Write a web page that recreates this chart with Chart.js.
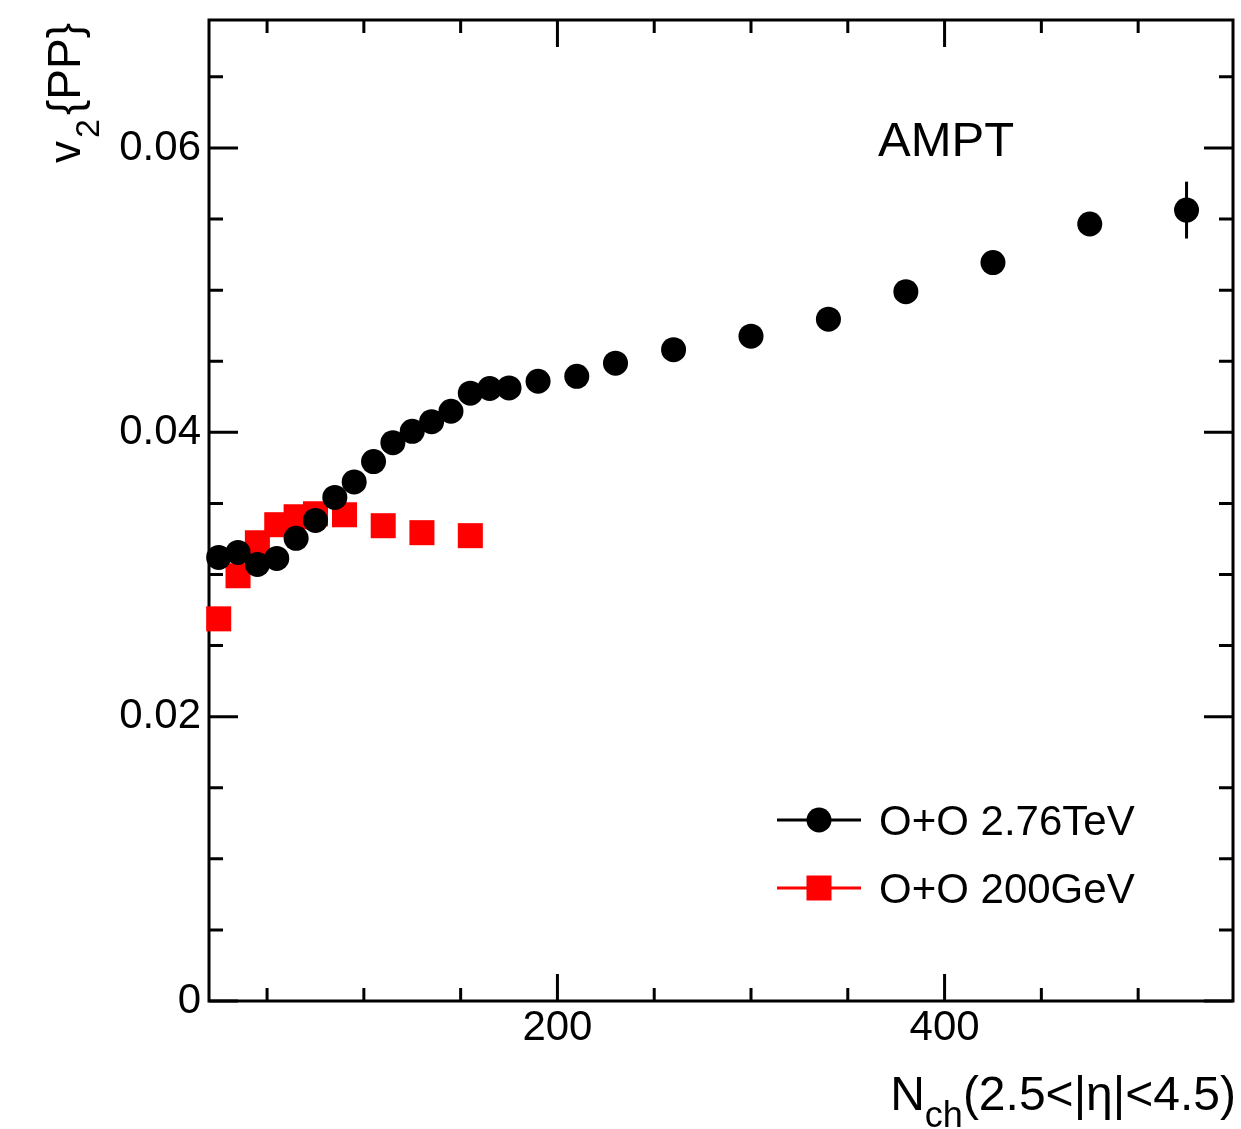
<!DOCTYPE html>
<html><head><meta charset="utf-8">
<script src="https://cdn.jsdelivr.net/npm/chart.js@4.4.1/dist/chart.umd.min.js"></script>
<style>html,body{margin:0;padding:0;background:#fff}canvas{display:block}</style>
</head><body>
<canvas id="c" width="1241" height="1129"></canvas>
<script>
// ---- data ----
const nchLHC = [25,35,45,55,65,75,85,95,105,115,125,135,145,155,165,175,190,210,230,260,300,340,380,425,475,525];
const v2LHC  = [0.03120,0.03155,0.03070,0.03113,0.03254,0.03380,0.03542,0.03651,0.03794,0.03927,0.04007,0.04075,0.04148,0.04275,0.04308,0.04312,0.04359,0.04394,0.04486,0.04581,0.04676,0.04796,0.04989,0.05194,0.05465,0.05563];
const errLHC = [0.0004,0.0004,0.0004,0.0004,0.0004,0.0004,0.0004,0.0004,0.0004,0.0004,0.0004,0.0004,0.0004,0.0004,0.0004,0.0004,0.0004,0.0004,0.0004,0.0004,0.0004,0.0005,0.0005,0.0006,0.0008,0.0020];
const nchRHIC = [25,35,45,55,65,75,90,110,130,155];
const v2RHIC  = [0.02688,0.02991,0.03223,0.03350,0.03406,0.03427,0.03420,0.03343,0.03294,0.03273];
const errRHIC = [0.0003,0.0003,0.0003,0.0003,0.0003,0.0003,0.0003,0.0004,0.0004,0.0005];
const seriesLabels = ['O+O 2.76TeV','O+O 200GeV'];
const xTickValues = [200,400];
const xTickText = ['200','400'];
const yTickValues = [0,0.02,0.04,0.06];
const yTickText = ['0','0.02','0.04','0.06'];
const annotationText = 'AMPT';

const FONT = "'Liberation Sans', Arial, Helvetica, sans-serif";
const X_MIN = 20, X_MAX = 549, X_MINOR = 50, X_MAJOR = 200;
const Y_MIN = 0, Y_MAX = 0.069, Y_MINOR = 0.005, Y_MAJOR = 0.02;

function isMult(v, step){ const k = v/step; return Math.abs(k-Math.round(k)) < 1e-6; }

const errors = [errLHC, errRHIC];

const framePlugin = {
  id: 'frame',
  beforeDatasetsDraw(chart){
    const {ctx, chartArea:a, scales:{x, y}} = chart;
    ctx.save();
    ctx.strokeStyle = '#000';
    ctx.lineWidth = 3;
    ctx.lineCap = 'butt';
    ctx.beginPath();
    x.ticks.forEach(t => {
      const px = x.getPixelForValue(t.value);
      const len = isMult(t.value, X_MAJOR) ? 27 : 13;
      ctx.moveTo(px, a.bottom); ctx.lineTo(px, a.bottom - len);
      ctx.moveTo(px, a.top); ctx.lineTo(px, a.top + len);
    });
    y.ticks.forEach(t => {
      const py = y.getPixelForValue(t.value);
      const len = isMult(t.value, Y_MAJOR) ? 29 : 14;
      ctx.moveTo(a.left, py); ctx.lineTo(a.left + len, py);
      ctx.moveTo(a.right, py); ctx.lineTo(a.right - len, py);
    });
    ctx.stroke();
    ctx.strokeRect(a.left, a.top, a.right - a.left, a.bottom - a.top);
    // error bars
    chart.data.datasets.forEach((ds, i) => {
      const meta = chart.getDatasetMeta(i);
      ctx.strokeStyle = ds.borderColor;
      ctx.lineWidth = 3;
      meta.data.forEach((el, j) => {
        const v = ds.data[j].y, e = errors[i][j];
        ctx.beginPath();
        ctx.moveTo(el.x, y.getPixelForValue(v - e));
        ctx.lineTo(el.x, y.getPixelForValue(v + e));
        ctx.stroke();
      });
    });
    ctx.restore();
  },
  afterDraw(chart){
    const {ctx} = chart;
    ctx.save();
    ctx.fillStyle = '#000';
    ctx.textBaseline = 'alphabetic';
    // annotation
    ctx.font = `49px ${FONT}`;
    ctx.textAlign = 'left';
    ctx.fillText(annotationText, 878, 156);
    // legend
    chart.data.datasets.forEach((ds, i) => {
      const cy = 820 + i * 68;
      ctx.strokeStyle = ds.borderColor;
      ctx.lineWidth = 3;
      ctx.beginPath(); ctx.moveTo(777, cy); ctx.lineTo(861, cy); ctx.stroke();
      ctx.fillStyle = ds.backgroundColor;
      if (ds.pointStyle === 'circle') {
        ctx.beginPath(); ctx.arc(819, cy, 12.5, 0, Math.PI*2); ctx.fill();
      } else {
        ctx.fillRect(819 - 12.5, cy - 12.5, 25, 25);
      }
      ctx.fillStyle = '#000';
      ctx.font = `42px ${FONT}`;
      ctx.fillText(ds.label, 879, cy + 15);
    });
    // x title: N_ch(2.5<|η|<4.5), right aligned
    const mainF = `48px ${FONT}`, subF = `36px ${FONT}`;
    ctx.font = mainF; const wN = ctx.measureText('N').width;
    const rest = '(2.5<|η|<4.5)'; const wR = ctx.measureText(rest).width;
    ctx.font = subF; const wS = ctx.measureText('ch').width;
    let x0 = 1236 - (wN + wS + wR);
    ctx.font = mainF; ctx.fillText('N', x0, 1110);
    ctx.font = subF; ctx.fillText('ch', x0 + wN, 1127);
    ctx.font = mainF; ctx.fillText(rest, x0 + wN + wS, 1110);
    // y title: v_2{PP}, rotated
    ctx.translate(80, 163);
    ctx.rotate(-Math.PI/2);
    ctx.font = `44px ${FONT}`;
    ctx.fillText('v', 0, 0);
    const wv = ctx.measureText('v').width;
    ctx.font = `34px ${FONT}`;
    ctx.fillText('2', wv + 3, 19);
    const w2 = ctx.measureText('2').width;
    ctx.font = `46px ${FONT}`;
    ctx.fillText('{PP}', wv + w2 + 7, 0);
    ctx.restore();
  }
};

new Chart(document.getElementById('c'), {
  type: 'scatter',
  data: {
    datasets: [
      {
        label: seriesLabels[0],
        data: nchLHC.map((x, i) => ({x, y: v2LHC[i]})),
        pointStyle: 'circle', pointRadius: 12.5, pointHoverRadius: 12.5,
        pointBorderWidth: 0, borderColor: '#000', backgroundColor: '#000',
        showLine: false, clip: false
      },
      {
        label: seriesLabels[1],
        data: nchRHIC.map((x, i) => ({x, y: v2RHIC[i]})),
        pointStyle: 'rect', pointRadius: 17.7, pointHoverRadius: 17.7,
        pointBorderWidth: 0, borderColor: '#ff0000', backgroundColor: '#ff0000',
        showLine: false, clip: false
      }
    ]
  },
  options: {
    responsive: false, animation: false, devicePixelRatio: 1,
    events: [],
    layout: {autoPadding: false, padding: {left: 0, top: 20, right: 8, bottom: 0}},
    plugins: {legend: {display: false}, tooltip: {enabled: false}},
    scales: {
      x: {
        type: 'linear', min: X_MIN, max: X_MAX,
        grid: {display: false, drawTicks: false}, border: {display: false},
        afterFit(s){ s.height = 128; s.paddingLeft = 0; s.paddingRight = 0; },
        ticks: {
          stepSize: X_MINOR, includeBounds: false, autoSkip: false, maxRotation: 0, padding: 6,
          color: '#000', font: {family: FONT, size: 42, lineHeight: 1},
          callback(v){ const i = xTickValues.findIndex(t => Math.abs(t - v) < 1e-9); return i >= 0 ? xTickText[i] : ''; }
        }
      },
      y: {
        type: 'linear', min: Y_MIN, max: Y_MAX,
        grid: {display: false, drawTicks: false}, border: {display: false},
        afterFit(s){ s.width = 209; s.paddingTop = 0; s.paddingBottom = 0; },
        ticks: {
          stepSize: Y_MINOR, includeBounds: false, autoSkip: false, padding: 8,
          color: '#000', font: {family: FONT, size: 42, lineHeight: 1},
          callback(v){ const i = yTickValues.findIndex(t => Math.abs(t - v) < 1e-9); return i >= 0 ? yTickText[i] : ''; }
        }
      }
    }
  },
  plugins: [framePlugin]
});
</script>
</body></html>
